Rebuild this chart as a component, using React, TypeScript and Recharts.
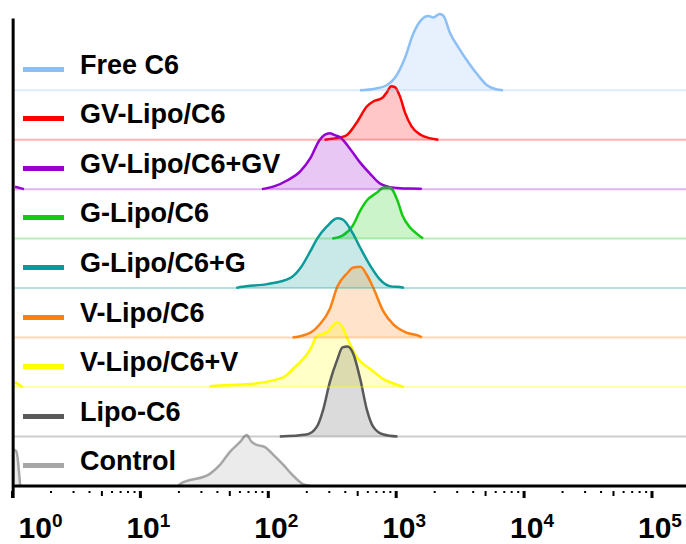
import React from 'react';
import { ComposedChart, Area, XAxis, YAxis, ReferenceLine, Legend } from 'recharts';

// Series names (top row to bottom row)
const labels = [
  'Free C6',
  'GV-Lipo/C6',
  'GV-Lipo/C6+GV',
  'G-Lipo/C6',
  'G-Lipo/C6+G',
  'V-Lipo/C6',
  'V-Lipo/C6+V',
  'Lipo-C6',
  'Control',
];
const colors = ['#8cbff5', '#ff0000', '#9400d3', '#11cc11', '#0a9a9a', '#ff8010', '#ffff00', '#595959', '#a6a6a6'];
// vertical offset of each histogram (in row units)
const offsets = [8, 7, 6, 5, 4, 3, 2, 1, 0];

// Histogram points: [log10 fluorescence intensity, relative count]; null = gap
type P = [number, number | null];
const freeC6: P[] = [
  [2.717, 0], [2.834, 0.03], [2.926, 0.1], [2.99, 0.25], [3.07, 0.66], [3.13, 1.12], [3.19, 1.4],
  [3.25, 1.5], [3.29, 1.47], [3.34, 1.54], [3.37, 1.5], [3.42, 1.16], [3.49, 0.85], [3.57, 0.54],
  [3.64, 0.3], [3.71, 0.1], [3.78, 0.02], [3.835, 0],
];
const gvLipo: P[] = [
  [2.44, 0], [2.6, 0.07], [2.69, 0.34], [2.77, 0.67], [2.82, 0.77], [2.89, 0.84], [2.93, 0.97],
  [2.96, 1.08], [2.99, 1.06], [3.03, 0.87], [3.07, 0.54], [3.12, 0.27], [3.19, 0.1], [3.26, 0.03], [3.33, 0],
];
const gvLipoGV: P[] = [
  [0.02, 0.05], [0.09, 0], [0.1, null], [1.95, 0], [2.05, 0.06], [2.15, 0.18], [2.25, 0.36], [2.33, 0.63],
  [2.4, 0.99], [2.48, 1.13], [2.52, 1.09], [2.56, 1.05], [2.64, 0.81], [2.72, 0.53], [2.8, 0.3],
  [2.87, 0.12], [2.95, 0.04], [3.03, 0.02], [3.19, 0.01], [3.2, 0],
];
const gLipo: P[] = [
  [2.5, 0], [2.58, 0.06], [2.66, 0.26], [2.72, 0.57], [2.77, 0.77], [2.85, 0.93], [2.9, 1.03],
  [2.95, 1.03], [3.01, 0.77], [3.05, 0.46], [3.11, 0.22], [3.16, 0.1], [3.21, 0],
];
const gLipoG: P[] = [
  [1.75, 0], [1.78, 0.02], [1.99, 0.08], [2.17, 0.2], [2.25, 0.4], [2.33, 0.75], [2.38, 0.99],
  [2.46, 1.25], [2.54, 1.41], [2.58, 1.39], [2.66, 1.11], [2.72, 0.81], [2.8, 0.44], [2.87, 0.18],
  [2.95, 0.04], [3.05, 0.01], [3.06, 0],
];
const vLipo: P[] = [
  [2.19, 0], [2.33, 0.1], [2.4, 0.26], [2.48, 0.57], [2.54, 1.03], [2.62, 1.31], [2.66, 1.41],
  [2.72, 1.43], [2.77, 1.27], [2.82, 1.01], [2.9, 0.53], [2.98, 0.26], [3.08, 0.1], [3.19, 0.02], [3.2, 0],
];
const vLipoV: P[] = [
  [0.02, 0.1], [0.08, 0], [0.09, null], [1.54, 0], [1.56, 0.02], [1.86, 0.06], [2.12, 0.2], [2.19, 0.36],
  [2.33, 0.77], [2.38, 1.03], [2.46, 1.11], [2.54, 1.31], [2.58, 1.21], [2.62, 0.97], [2.69, 0.61],
  [2.8, 0.36], [2.9, 0.16], [3.05, 0.01], [3.06, 0],
];
const lipoC6: P[] = [
  [2.09, 0], [2.3, 0.04], [2.38, 0.2], [2.43, 0.55], [2.48, 1.09], [2.54, 1.56], [2.58, 1.8],
  [2.62, 1.82], [2.66, 1.7], [2.72, 1.15], [2.77, 0.55], [2.82, 0.2], [2.9, 0.04], [3.01, 0],
];
const control: P[] = [
  [0.0, 0.75], [0.03, 0.7], [0.06, 0], [0.07, null], [1.3, 0], [1.31, 0.04], [1.54, 0.24], [1.62, 0.42],
  [1.7, 0.69], [1.78, 0.89], [1.83, 1.03], [1.87, 0.89], [1.91, 0.83], [1.97, 0.79], [2.04, 0.63],
  [2.12, 0.42], [2.19, 0.22], [2.27, 0.04], [2.33, 0],
];
const histograms = [freeC6, gvLipo, gvLipoGV, gLipo, gLipoG, vLipo, vLipoV, lipoC6, control];

// axis
const decades = [0, 1, 2, 3, 4, 5];
const minorSteps = [2, 3, 4, 5, 6, 7, 8, 9];
const xMax = 5.266;
const yMax = 9.6;

const ticks: number[] = [];
decades.forEach((d) => {
  ticks.push(d);
  if (d < 5) minorSteps.forEach((k) => ticks.push(d + Math.log10(k)));
});

const FONT = '"Liberation Sans", Arial, Helvetica, sans-serif';

const LogTick = (props: any) => {
  const { x, y, payload } = props;
  const v = payload.value as number;
  const r = Math.round(v);
  if (Math.abs(v - r) < 1e-6) {
    return (
      <g>
        <rect x={x - 1.5} y={y + 5} width={3} height={7} fill="#000" />
        <text
          x={r === 0 ? x + 6 : x - 14}
          y={y + 52}
          fontSize={30}
          fontWeight="bold"
          fontFamily={FONT}
          fill="#000"
          textAnchor="start"
        >
          10
          <tspan dy={-11} fontSize={19}>
            {r}
          </tspan>
        </text>
      </g>
    );
  }
  const k = Math.round(Math.pow(10, v - Math.floor(v)));
  if (k === 5) return <rect x={x - 1} y={y + 5} width={2} height={5} fill="#000" />;
  return <rect x={x - 1} y={y + 5} width={2} height={2} fill="#000" />;
};

const LegendContent = () => (
  <div style={{ position: 'relative', width: 300, height: 500 }}>
    {labels.map((name, i) => {
      const base = 74 + 49.6 * i;
      return (
        <React.Fragment key={name}>
          <div
            style={{
              position: 'absolute',
              left: 23,
              top: base - 7.5,
              width: 41,
              height: 5,
              background: colors[i],
            }}
          />
          <div
            style={{
              position: 'absolute',
              left: 80,
              top: base - 24.5,
              lineHeight: '30px',
              fontSize: 27,
              fontWeight: 'bold',
              fontFamily: FONT,
              color: '#000',
              whiteSpace: 'nowrap',
            }}
          >
            {name}
          </div>
        </React.Fragment>
      );
    })}
  </div>
);

export default function App() {
  return (
    <div style={{ position: 'absolute', left: 0, top: 0, background: '#fff' }}>
      <ComposedChart width={686} height={544} margin={{ top: 11, right: 0, bottom: 0, left: 12.5 }}>
        <XAxis
          type="number"
          dataKey="x"
          domain={[0, xMax]}
          allowDataOverflow
          ticks={ticks}
          interval={0}
          tickSize={0}
          tickMargin={0}
          tickLine={false}
          height={58}
          axisLine={{ stroke: '#000', strokeWidth: 3 }}
          tick={<LogTick />}
        />
        <YAxis type="number" domain={[0, yMax]} hide />
        {labels.map((name, i) => (
          <ReferenceLine
            key={'b' + name}
            y={offsets[i]}
            stroke={colors[i]}
            strokeOpacity={0.3}
            strokeWidth={2}
          />
        ))}
        {labels.map((name, i) => (
          <Area
            key={name}
            name={name}
            data={histograms[i].map(([x, h]) => ({ x, v: h === null ? null : offsets[i] + h }))}
            dataKey="v"
            type="monotone"
            baseValue={offsets[i]}
            stroke={colors[i]}
            strokeWidth={2.5}
            fill={colors[i]}
            fillOpacity={0.22}
            dot={false}
            activeDot={false}
            isAnimationActive={false}
          />
        ))}
        <ReferenceLine
          segment={[
            { x: 0.005, y: -0.24 },
            { x: 0.005, y: 9.45 },
          ]}
          stroke="#000"
          strokeWidth={3}
          ifOverflow="visible"
        />
        <Legend
          layout="vertical"
          align="center"
          verticalAlign="middle"
          content={<LegendContent />}
          wrapperStyle={{ position: 'absolute', left: 0, top: 0, width: 300, height: 500 }}
        />
      </ComposedChart>
    </div>
  );
}
